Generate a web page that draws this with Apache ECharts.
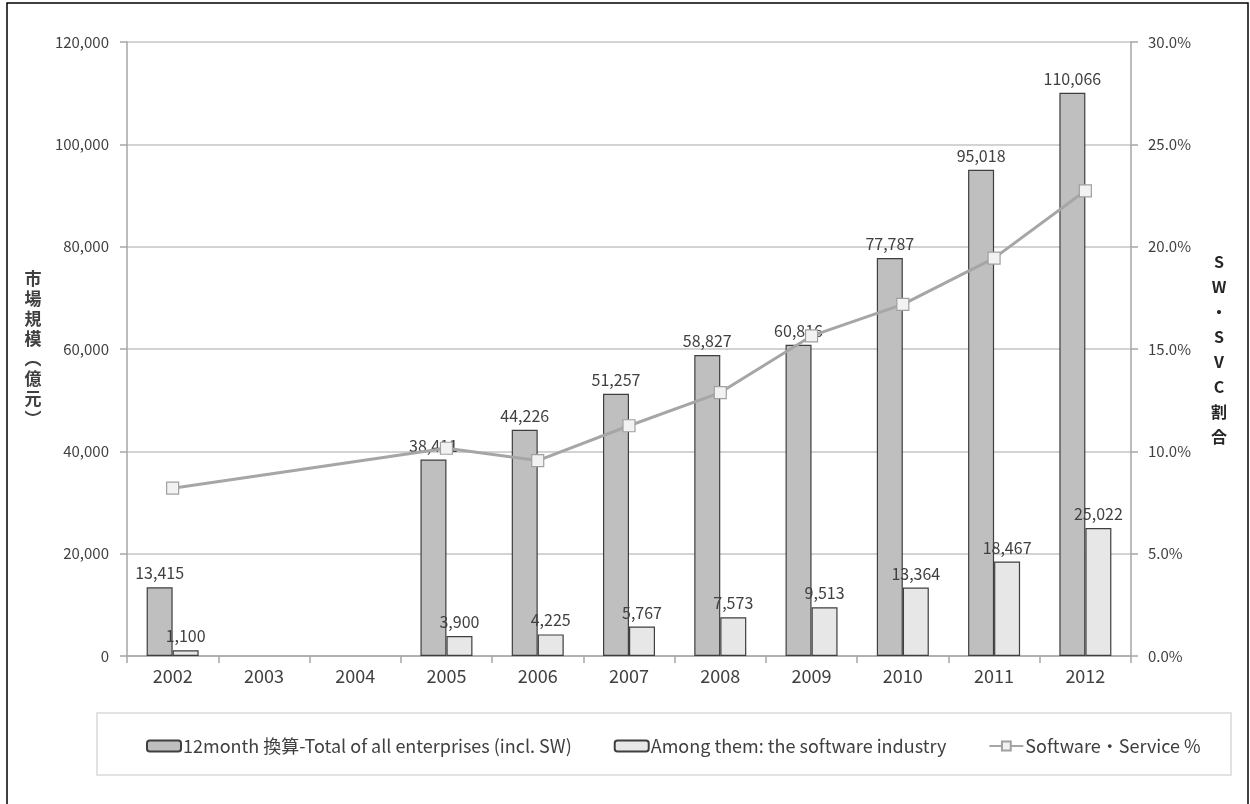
<!DOCTYPE html>
<html>
<head>
<meta charset="utf-8">
<script src="https://cdn.jsdelivr.net/npm/echarts@6/dist/echarts.min.js"></script>
<style>
  html, body { margin: 0; padding: 0; background: #fff; }
  #chart { width: 1250px; height: 804px; }
</style>
</head>
<body>
<div id="chart"></div>
<script>
// Years on the category axis
const years = ['2002', '2003', '2004', '2005', '2006', '2007', '2008', '2009', '2010', '2011', '2012'];
// Market size, all enterprises (100 million yuan, 12-month basis)
const totalAll = [13415, null, null, 38411, 44226, 51257, 58827, 60816, 77787, 95018, 110066];
// Of which: software industry
const softwareOnly = [1100, null, null, 3900, 4225, 5767, 7573, 9513, 13364, 18467, 25022];
// Software & service share (%)
const swShare = [8.2, null, null, 10.15, 9.55, 11.25, 12.87, 15.64, 17.18, 19.44, 22.73];
// Legend / series names
const seriesNames = ['12month 換算-Total of all enterprises (incl. SW)', 'Among them: the software industry', 'Software・Service %'];

const FONT = '"Noto Sans CJK JP", "Noto Sans", sans-serif';
const fmtNum = v => Number(v).toLocaleString('en-US');

const chart = echarts.init(document.getElementById('chart'), null, { renderer: 'canvas' });

chart.setOption({
  backgroundColor: '#ffffff',
  textStyle: { fontFamily: FONT },
  animation: false,
  grid: { left: 127, right: 119, top: 42, bottom: 148 },
  graphic: [
    {
      type: 'rect', silent: true, z: -10,
      shape: { x: 7, y: 3, width: 1241, height: 820 },
      style: { fill: 'none', stroke: '#000', lineWidth: 1.5 }
    },
    {
      type: 'rect', silent: true, z: -10,
      shape: { x: 97, y: 713, width: 1134, height: 62 },
      style: { fill: 'none', stroke: '#d9d9d9', lineWidth: 1.5 }
    }
  ],
  legend: {
    left: 141, top: 732,
    itemWidth: 34, itemHeight: 11, itemGap: 42,
    textStyle: { fontFamily: FONT, fontSize: 18, color: '#404040', padding: [0, 0, 0, -3] },
    data: seriesNames
  },
  xAxis: {
    type: 'category',
    data: years,
    axisLine: { lineStyle: { color: '#a6a6a6', width: 1.5 } },
    axisTick: { show: true, length: 7, lineStyle: { color: '#a6a6a6', width: 1.5 } },
    axisLabel: { fontSize: 18, color: '#404040', margin: 11, fontFamily: FONT }
  },
  yAxis: [
    {
      type: 'value', min: 0, max: 120000, interval: 20000,
      name: '市\n場\n規\n模\n︵\n億\n元\n︶',
      nameLocation: 'middle', nameRotate: 0, nameGap: 94,
      nameTextStyle: { fontSize: 17, fontWeight: 'bold', color: '#404040', lineHeight: 20, align: 'center', verticalAlign: 'middle', fontFamily: FONT },
      axisLine: { show: true, lineStyle: { color: '#a6a6a6', width: 1.5 } },
      axisTick: { show: true, length: 7, lineStyle: { color: '#a6a6a6', width: 1.5 } },
      axisLabel: { fontSize: 15, color: '#404040', margin: 18, formatter: v => fmtNum(v), fontFamily: FONT },
      splitLine: { show: true, lineStyle: { color: '#c4c4c4', width: 1.5 } }
    },
    {
      type: 'value', min: 0, max: 30, interval: 5, position: 'right',
      name: 'S\nW\n・\nS\nV\nC\n割\n合',
      nameLocation: 'middle', nameRotate: 0, nameGap: 88,
      nameTextStyle: { fontSize: 16, fontWeight: 'bold', color: '#262626', lineHeight: 25, align: 'center', verticalAlign: 'middle', fontFamily: FONT },
      axisLine: { show: true, lineStyle: { color: '#a6a6a6', width: 1.5 } },
      axisTick: { show: true, length: 7, lineStyle: { color: '#a6a6a6', width: 1.5 } },
      axisLabel: { fontSize: 15, color: '#404040', margin: 17, formatter: v => v.toFixed(1) + '%', fontFamily: FONT },
      splitLine: { show: false }
    }
  ],
  series: [
    {
      name: seriesNames[0],
      type: 'bar',
      data: totalAll,
      barWidth: 26,
      barGap: '0%',
      itemStyle: { color: '#bfbfbf', borderColor: '#3f3f3f', borderWidth: 1.2 },
      label: {
        show: true, position: 'top', distance: 6,
        fontSize: 16, color: '#404040', fontFamily: FONT,
        formatter: p => fmtNum(p.value)
      }
    },
    {
      name: seriesNames[1],
      type: 'bar',
      data: softwareOnly,
      barWidth: 26,
      barGap: '0%',
      itemStyle: { color: '#e7e7e7', borderColor: '#3f3f3f', borderWidth: 1.2 },
      label: {
        show: true, position: 'top', distance: 6,
        fontSize: 16, color: '#404040', fontFamily: FONT,
        formatter: p => fmtNum(p.value)
      }
    },
    {
      name: seriesNames[2],
      type: 'line',
      yAxisIndex: 1,
      data: swShare,
      connectNulls: true,
      symbol: 'rect',
      symbolSize: 12,
      z: 5,
      lineStyle: { color: '#a6a6a6', width: 3 },
      itemStyle: { color: '#f2f2f2', borderColor: '#a0a0a0', borderWidth: 1.2 }
    }
  ]
});
</script>
</body>
</html>
